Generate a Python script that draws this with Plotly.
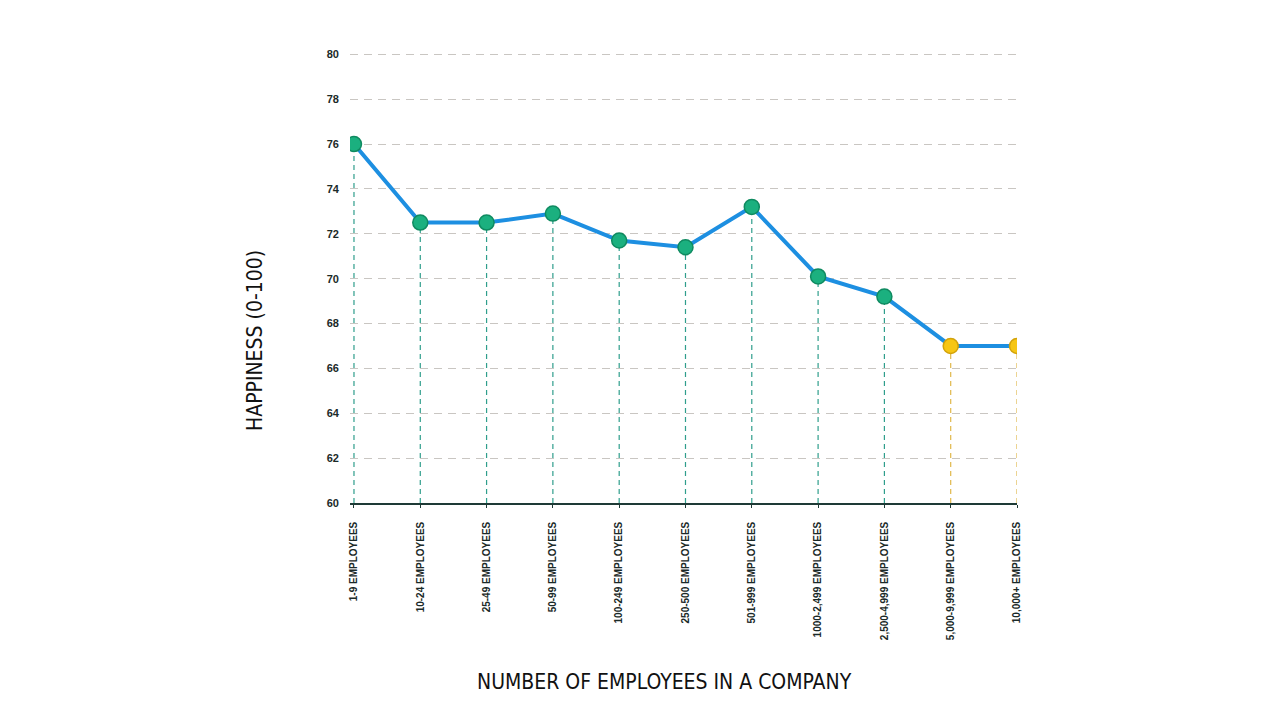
import plotly.graph_objects as go

categories = ["1-9 EMPLOYEES", "10-24 EMPLOYEES", "25-49 EMPLOYEES", "50-99 EMPLOYEES",
              "100-249 EMPLOYEES", "250-500 EMPLOYEES", "501-999 EMPLOYEES",
              "1000-2,499 EMPLOYEES", "2,500-4,999 EMPLOYEES", "5,000-9,999 EMPLOYEES",
              "10,000+ EMPLOYEES"]
happiness = [76.0, 72.5, 72.5, 72.9, 71.7, 71.4, 73.2, 70.1, 69.2, 67.0, 67.0]
highlight = [False, False, False, False, False, False, False, False, False, True, True]
y_ticks = [60, 62, 64, 66, 68, 70, 72, 74, 76, 78, 80]

GREEN, GREEN_EDGE, GREEN_DROP = "#1bb07f", "#0f8a60", "#2f9e8c"
GOLD, GOLD_EDGE, GOLD_DROP = "#f6c614", "#d2a20a", "#e0b84a"
ymin = y_ticks[0]

# page body has an 8px margin; compensate so the plot lands where the reference has it
OFF = 8
L, R, T, B = 350 - OFF, 263 + OFF, 53 - OFF, 217 + OFF
PW, PH = 1280 - L - R, 720 - T - B

fig = go.Figure()

# vertical drop lines
for hl, col in [(False, GREEN_DROP), (True, GOLD_DROP)]:
    xs, ys = [], []
    for c, v, h in zip(categories, happiness, highlight):
        if h == hl:
            xs += [c, c, None]
            ys += [ymin, v, None]
    fig.add_trace(go.Scatter(x=xs, y=ys, mode="lines",
                             line=dict(color=col, width=1.2, dash="5px,4px"),
                             hoverinfo="skip", showlegend=False))

fig.add_trace(go.Scatter(
    x=categories, y=happiness, mode="lines+markers",
    line=dict(color="#1d8fe1", width=4),
    marker=dict(size=15,
                color=[GOLD if h else GREEN for h in highlight],
                line=dict(color=[GOLD_EDGE if h else GREEN_EDGE for h in highlight], width=1.5)),
    showlegend=False))

fig.update_layout(
    width=1280, height=720,
    paper_bgcolor="white", plot_bgcolor="white",
    margin=dict(l=L, r=R, t=T, b=B),
    font=dict(family="Arial, Liberation Sans, sans-serif", color="#1b2a28"),
)
fig.update_xaxes(
    type="category", range=[-0.06, 10.0],
    showgrid=False, showline=True, linecolor="#1e3a36", linewidth=1.5,
    ticks="outside", ticklen=3, tickcolor="#1e3a36", ticklabelstandoff=10,
    tickangle=-90, tickfont=dict(size=10, family="Arial, Liberation Sans, sans-serif",
                                 weight="bold", color="#1b2a28"),
    zeroline=False,
)
fig.update_yaxes(
    range=[60, 80.06], tickvals=y_ticks, ticktext=[str(t) for t in y_ticks],
    showgrid=True, gridcolor="#c9c6c2", griddash="8px,6px", gridwidth=1,
    zeroline=False, showline=False, ticks="", ticklabelstandoff=10,
    tickfont=dict(size=11, family="Arial, Liberation Sans, sans-serif",
                  weight="bold", color="#1b2a28"),
)

title_font = dict(family="Liberation Sans Narrow, DejaVu Sans Condensed, Roboto Condensed, sans-serif",
                  size=21, color="#111111")
fig.add_annotation(text="NUMBER OF EMPLOYEES IN A COMPANY", xref="paper", yref="paper",
                   x=((483 + 846) / 2 - 350) / PW, y=(503 - 682) / PH, showarrow=False,
                   font=title_font, xanchor="center", yanchor="middle")
fig.add_annotation(text="HAPPINESS (0-100)", xref="paper", yref="paper",
                   x=(255 - 350) / PW, y=(503 - 341) / PH, showarrow=False, textangle=-90,
                   font=title_font, xanchor="center", yanchor="middle")

fig.write_html("out.html")
